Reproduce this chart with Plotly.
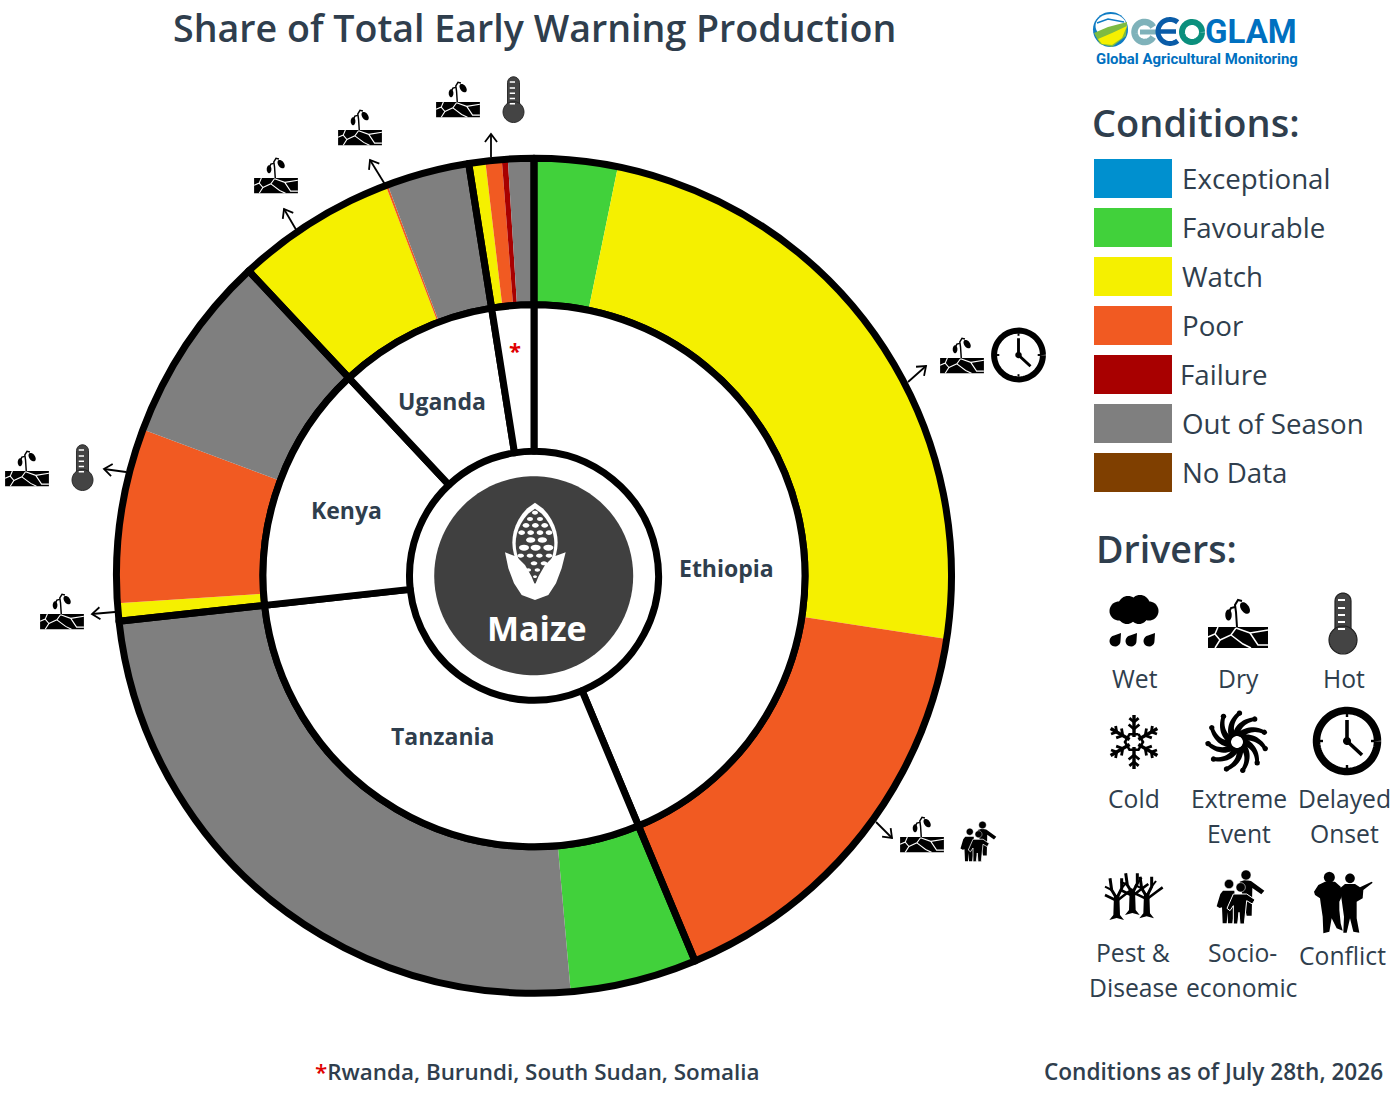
import numpy as np
import plotly.graph_objects as go

# share of total production per country (percent)
countries = ["Ethiopia", "Tanzania", "Kenya", "Uganda", "Other"]
favourable = [3.22, 4.9, 0, 0, 0]
watch = [24.2, 0, 0.69, 6.19, 0.64]
poor = [16.28, 0, 6.75, 0.08, 0.63]
failure = [0, 0, 0, 0, 0.23]
out_of_season = [0, 24.66, 7.33, 3.2, 1.0]

condition_names = ["Exceptional", "Favourable", "Watch", "Poor", "Failure", "Out of Season", "No Data"]
condition_colors = ["#0090CF", "#41D13B", "#F5F000", "#F15A22", "#A80000", "#7F7F7F", "#7F3F00"]

driver_labels = ["Wet", "Dry", "Hot", "Cold", "Extreme", "Event", "Delayed", "Onset",
                 "Pest &", "Disease", "Socio-", "economic", "Conflict"]
country_labels = ["Ethiopia", "Tanzania", "Kenya", "Uganda", "*"]

W, H = 1400, 1100
CX, CY = 534, 575.8
R_OUT, R_MID, R_HOLE = 417.5, 271, 124.5
TEXT = "#2F3E4D"
FONT = "Open Sans"

shapes = []
annotations = []


def pt(x, y):
    return f"{x / W:.5f},{1 - y / H:.5f}"


def to_path(points, closed=True):
    return "M" + "L".join(pt(x, y) for x, y in points) + ("Z" if closed else "")


def fill(points, color, line=None, lw=0):
    shapes.append(dict(type="path", xref="paper", yref="paper", path=to_path(points), fillcolor=color,
                       line=dict(color=line or color, width=lw), layer="above"))


def stroke(points, color="black", lw=2):
    shapes.append(dict(type="path", xref="paper", yref="paper", path=to_path(points, closed=False),
                       line=dict(color=color, width=lw), layer="above"))


def ellipse(cx, cy, rx, ry=None, rot=0, n=40):
    ry = rx if ry is None else ry
    t = np.linspace(0, 2 * np.pi, n, endpoint=False)
    a = np.radians(rot)
    x = rx * np.cos(t)
    y = ry * np.sin(t)
    return list(zip(cx + x * np.cos(a) - y * np.sin(a), cy + x * np.sin(a) + y * np.cos(a)))


def arc(cx, cy, r, a0, a1, n=50):
    t = np.radians(np.linspace(a0, a1, n))
    return list(zip(cx + r * np.cos(t), cy + r * np.sin(t)))


def move(points, ox, oy, s=1.0):
    return [(ox + x * s, oy + y * s) for x, y in points]


def text(s, x, y, size, color=TEXT, anchor="left", weight=400, family=FONT):
    annotations.append(dict(text=s, x=x / W, y=1 - y / H, xref="paper", yref="paper", showarrow=False,
                            xanchor=anchor, yanchor="middle", borderpad=0,
                            font=dict(family=family, size=size, color=color, weight=weight)))


def arrow(x0, y0, x1, y1, head=10):
    stroke([(x0, y0), (x1, y1)], lw=1.8)
    a = np.arctan2(y0 - y1, x0 - x1)
    left = (x1 + head * np.cos(a + 0.65), y1 + head * np.sin(a + 0.65))
    right = (x1 + head * np.cos(a - 0.65), y1 + head * np.sin(a - 0.65))
    stroke([left, (x1, y1), right], lw=1.8)


def dry_icon(ox, oy, s=1.0):
    # origin is the middle of the top edge of the cracked ground
    fill(move([(-30, 0), (30, 0), (30, 21), (-30, 21)], ox, oy, s), "black")
    cracks = [[(-20, 0), (-23, 7), (-30, 10)], [(-23, 7), (-18, 13), (-23, 21)],
              [(-18, 13), (-7, 8), (-2, 1)], [(-7, 8), (5, 17), (13, 21)],
              [(-2, 1), (12, 6), (30, 3)], [(12, 6), (20, 18), (30, 18)]]
    for c in cracks:
        stroke(move(c, ox, oy, s), "white", 1.5 * s)
    stroke(move([(-1, 0), (-2, -15), (-3, -22), (0, -27), (4, -26)], ox, oy, s), "black", 2 * s)
    stroke(move([(-3, -20), (-7, -19), (-9, -15)], ox, oy, s), "black", 2 * s)
    fill(move(ellipse(7, -19, 6.5, 4, 55), ox, oy, s), "black")
    fill(move(ellipse(-9.5, -12, 3.2, 5.5), ox, oy, s), "black")


def thermometer(ox, oy, s=1.0):
    # origin is the centre of the bulb
    tube = arc(0, -39, 8, 180, 360, 12) + [(8, 0), (-8, 0)]
    fill(move(tube, ox, oy, s), "#444444", "#222222", 1.2 * s)
    fill(move(ellipse(0, 0, 14), ox, oy, s), "#444444", "#222222", 1.2 * s)
    for dy in [-40, -32, -25, -18, -11]:
        stroke(move([(-5, dy), (2, dy)], ox, oy, s), "white", 2 * s)


def clock(ox, oy, s=1.0):
    # legend size has a radius of 34
    stroke(move(arc(0, 0, 30.5, 0, 360, 70), ox, oy, s), "black", 7.5 * s)
    stroke(move([(0, -21), (0, 0), (15, 14)], ox, oy, s), "black", 3.6 * s)
    fill(move(ellipse(0, 0, 4), ox, oy, s), "black")
    for a in [0, 90, 180, 270]:
        c, n = np.cos(np.radians(a)), np.sin(np.radians(a))
        stroke(move([(27 * c, 27 * n), (24 * c, 24 * n)], ox, oy, s), "black", 2.4 * s)


def people(ox, oy, s=1.0):
    # figures are drawn at 3x so their outlines stay easy to edit
    back = [(484, 908), (500, 903), (518, 906), (558, 935), (549, 946), (522, 927), (520, 1010), (505, 1010)]
    left = [(434, 935), (468, 935), (470, 975), (462, 1033), (449, 1033), (448, 1000), (445, 1033), (433, 1033),
            (431, 985), (424, 987), (415, 982), (426, 945)]
    mid = [(465, 945), (505, 945), (530, 962), (522, 975), (505, 965), (498, 1035), (485, 1035), (482, 1000),
           (478, 1035), (465, 1035), (465, 980), (455, 995), (446, 988)]
    for poly in [back, left]:
        fill([(ox + (x - 485) / 3 * s, oy + (y - 960) / 3 * s) for x, y in poly], "black")
    fill([(ox + (x - 485) / 3 * s, oy + (y - 960) / 3 * s) for x, y in mid], "black", "white", 1 * s)
    for x, y, r in [(503, 888, 15), (452, 915, 14), (487, 925, 14)]:
        fill(ellipse(ox + (x - 485) / 3 * s, oy + (y - 960) / 3 * s, r / 3 * s), "black", "white", 0.6 * s)


def wet_icon(ox, oy):
    for x, y, r in [(-15, 0, 9.5), (-6, -5, 10), (6, -6, 10), (15, 0, 9.5), (5, 4, 9), (-7, 4, 9)]:
        fill(ellipse(ox + x, oy + y, r), "black")
    for x in [-19, -3, 15]:
        drop = [(6, -8)] + arc(0, 0, 5.5, 0, 260, 16)
        fill(move(drop, ox + x, oy + 30), "black")


def snowflake(ox, oy):
    for k in range(6):
        a = np.radians(60 * k - 90)
        u = (np.cos(a), np.sin(a))
        stroke([(ox + 5 * u[0], oy + 5 * u[1]), (ox + 27 * u[0], oy + 27 * u[1])], "black", 3.4)
        for r, b in [(13, 7), (20, 6)]:
            for sg in [-1, 1]:
                d = a + sg * np.radians(50)
                p = (ox + r * u[0], oy + r * u[1])
                stroke([p, (p[0] + b * np.cos(d), p[1] + b * np.sin(d))], "black", 2.8)
    hexa = [(ox + 9 * np.cos(np.radians(60 * k - 60)), oy + 9 * np.sin(np.radians(60 * k - 60))) for k in range(7)]
    stroke(hexa, "black", 2.6)


def swirl(ox, oy):
    for k in range(11):
        base = 2 * np.pi * k / 11
        t = np.linspace(0, 1, 14)
        r = 7 + 22 * t
        a = base + 0.8 * t
        w = (3.6 - 0.9 * t) / r
        edge1 = list(zip(ox + r * np.cos(a + w), oy + r * np.sin(a + w)))
        edge2 = list(zip(ox + r * np.cos(a - w), oy + r * np.sin(a - w)))
        fill(edge1 + edge2[::-1], "black")
        fill(ellipse(ox + r[-1] * np.cos(a[-1]), oy + r[-1] * np.sin(a[-1]), 2.7, n=12), "black")
    stroke(arc(ox, oy, 8, 0, 360, 30), "black", 4)


def tree(x0, ybase):
    # crop coordinates, 3 units to the pixel, origin at the crop corner
    def p(points):
        return [(1095 + (x0 + x) / 3, 865 + (ybase + y) / 3) for x, y in points]

    fill(p([(-8, -75), (8, -75), (10, -15), (22, 0), (0, -6), (-22, 0), (-10, -15)]), "black")
    for branch, lw in [([(0, -65), (-15, -90), (-20, -125)], 3), ([(-15, -90), (-35, -100)], 2),
                       ([(0, -65), (15, -95), (15, -125)], 3), ([(15, -95), (28, -112)], 2),
                       ([(-4, -60), (-35, -75)], 2.6), ([(4, -60), (30, -80), (48, -93)], 2.6)]:
        stroke(p(branch), "black", lw)


def soldiers():
    def p(points):
        return [(1300 + x / 3, 860 + y / 3) for x, y in points]

    body1 = [(42, 95), (55, 75), (75, 65), (105, 65), (122, 80), (125, 110), (118, 125), (118, 150), (122, 190),
             (128, 212), (110, 205), (95, 175), (88, 215), (70, 220), (68, 170), (62, 130), (60, 115), (45, 105)]
    body2 = [(120, 85), (135, 72), (165, 72), (180, 82), (215, 65), (218, 68), (190, 90), (188, 115), (170, 125),
             (170, 175), (178, 218), (160, 215), (150, 175), (140, 218), (130, 218), (132, 170), (125, 120)]
    fill(p(body1), "black")
    fill(p(body2), "black")
    fill(ellipse(1300 + 88 / 3, 860 + 52 / 3, 14 / 3 + 0.8), "black")
    fill(ellipse(1300 + 150 / 3, 860 + 55 / 3, 12 / 3 + 0.8), "black")


def maize():
    def mz(points):
        return [(400 + x / 3, 440 + y / 3) for x, y in points]

    def lens(half, top, bottom):
        t = np.linspace(0, 1, 16)
        ys = top + (bottom - top) * t
        xs = half * np.sin(np.pi * t ** 0.9) ** 0.8
        return [(405 + x, y) for x, y in zip(xs, ys)] + [(405 - x, y) for x, y in zip(xs[::-1], ys[::-1])]

    fill(mz(lens(68, 188, 445)), "white")
    fill(mz(lens(58, 206, 432)), "#404040")
    rows = [(218, [405], 9, 6), (237, [390, 420], 9, 6), (256, [378, 406, 434], 10, 7), (278, [365, 392, 420, 447], 10, 7),
            (300, [392, 427], 14, 8), (323, [372, 407, 445], 15, 9), (347, [362, 390, 418, 447], 10, 6),
            (370, [402, 432], 10, 6), (390, [385, 412], 8, 5), (410, [405], 6, 4)]
    for y, xs, rx, ry in rows:
        for x in xs:
            fill(mz(ellipse(x, y, rx, ry, n=16)), "white")
    husk = [(315, 337), (350, 350), (375, 375), (395, 410), (405, 435), (415, 410), (435, 375), (460, 350), (497, 337),
            (485, 385), (468, 430), (445, 465), (405, 480), (365, 465), (342, 430), (325, 385)]
    fill(mz(husk), "white")


def logo():
    fill(ellipse(1110.5, 29.5, 17.5), "#0F7CC4")
    fill(ellipse(1111, 26, 15.5, 12), "white")
    fill([(1094, 33), (1108, 27), (1127, 22), (1126, 36), (1112, 47), (1100, 44)], "#7DBB42")
    fill([(1098, 39), (1112, 33), (1127, 26), (1122, 38), (1112, 45), (1102, 44)], "#F5F000")
    stroke([(1097, 23), (1108, 19), (1124, 22)], "#0F7CC4", 1.6)
    stroke(arc(1144.5, 32, 10, 30, 330), "#7FB2BA", 6.5)
    stroke([(1140, 32), (1158, 32)], "#7FB2BA", 5)
    stroke(arc(1170, 31.5, 12, 50, 310), "#0A5CA8", 5)
    stroke([(1158, 31.5), (1176, 31.5)], "#0A5CA8", 4.5)
    stroke(arc(1192, 32, 10, 0, 360), "#0B8F7D", 6)
    text("GLAM", 1204, 31, 33, "#0070C0", weight=700, family="Roboto")
    text("Global Agricultural Monitoring", 1095, 59, 14.9, "#0070C0", weight=700, family="Roboto")


def domain(r):
    return dict(x=[(CX - r) / W, (CX + r) / W], y=[1 - (CY + r) / H, 1 - (CY - r) / H])


series = [favourable, watch, poor, failure, out_of_season]
series_colors = condition_colors[1:6]
ring_labels, ring_values, ring_colors = [], [], []
for i, country in enumerate(countries):
    for name, values, color in zip(condition_names[1:6], series, series_colors):
        if values[i] > 0:
            ring_labels.append(f"{country} - {name}")
            ring_values.append(values[i])
            ring_colors.append(color)
totals = [sum(values[i] for values in series) for i in range(len(countries))]

fig = go.Figure()
fig.add_trace(go.Pie(labels=ring_labels, values=ring_values, sort=False, direction="clockwise", rotation=0,
                     domain=domain(R_OUT), hole=R_MID / R_OUT, textinfo="none", showlegend=False,
                     marker=dict(colors=ring_colors, line=dict(width=0))))
fig.add_trace(go.Pie(labels=countries, values=totals, sort=False, direction="clockwise", rotation=0,
                     domain=domain(R_OUT), hole=R_MID / R_OUT, textinfo="none", showlegend=False, hoverinfo="skip",
                     marker=dict(colors=["rgba(0,0,0,0)"] * 5, line=dict(color="black", width=7))))
fig.add_trace(go.Pie(labels=countries, values=totals, sort=False, direction="clockwise", rotation=0,
                     domain=domain(R_MID), hole=R_HOLE / R_MID, textinfo="none", showlegend=False,
                     marker=dict(colors=["white"] * 5, line=dict(color="black", width=7))))

# centre badge
fill(ellipse(CX - 0.3, CY, 99.5, n=90), "#404040")
maize()
text("Maize", 536.5, 627.5, 34, "white", "center", 700)

# country labels
for label, x, y in zip(country_labels, [727, 442, 346, 442, 515], [568, 736, 510, 401, 350]):
    if label == "*":
        text(label, x, y, 22, "#E00000", "center", 700)
    else:
        text(label, x, y, 23, TEXT, "center", 700)

# arrows and driver icons around the ring
arrow(908, 382, 926, 366)
dry_icon(962, 358, 0.73)
clock(1018.5, 355, 0.8)
arrow(876, 822, 892, 838)
dry_icon(922, 837, 0.73)
people(978, 843, 0.75)
arrow(491, 157, 491, 134)
dry_icon(458, 102, 0.73)
thermometer(513.5, 112, 0.75)
arrow(386, 186, 370, 160)
dry_icon(360, 130, 0.73)
arrow(298, 233, 284, 209)
dry_icon(276, 178, 0.73)
arrow(126, 472, 104, 469)
dry_icon(27, 471, 0.73)
thermometer(82.5, 480, 0.75)
arrow(115, 612, 92, 614)
dry_icon(62, 614, 0.73)

# header and footers
text("Share of Total Early Warning Production", 534, 27.5, 37.6, TEXT, "center", 600)
logo()
text("Conditions:", 1091, 122, 38, TEXT, weight=600)
text("Drivers:", 1095, 549, 37.6, TEXT, weight=600)
text("<span style='color:#E00000'>*</span>Rwanda, Burundi, South Sudan, Somalia", 314, 1071, 22.4, TEXT, weight=600)
text("Conditions as of July 28th, 2026", 1384, 1071, 22.6, TEXT, "right", 600)

# conditions legend
for i, (name, color) in enumerate(zip(condition_names, condition_colors)):
    top = 159 + 49 * i
    fill([(1094, top), (1172, top), (1172, top + 39), (1094, top + 39)], color)
    text(name, 1181 if name != "Failure" else 1179, top + 19, 27.7, TEXT)

# drivers legend
wet_icon(1134, 611)
dry_icon(1238, 627)
thermometer(1343, 640)
snowflake(1134, 742)
swirl(1237, 742)
clock(1347, 741)
for x0, base in [(65, 165), (112, 150), (155, 160)]:
    tree(x0, base)
people(1240, 899)
soldiers()
label_x = [1135, 1238, 1344, 1134, 1239, 1239, 1344, 1344, 1133, 1133, 1242, 1242, 1342]
label_y = [678, 678, 678, 798, 798, 833, 798, 833, 952, 987, 952, 987, 955]
for label, x, y in zip(driver_labels, label_x, label_y):
    text(label, x, y, 24.7, TEXT, "center")

fig.update_layout(width=W, height=H, margin=dict(l=0, r=0, t=0, b=0), paper_bgcolor="white",
                  showlegend=False, shapes=shapes, annotations=annotations)
fig.write_html("out.html", config=dict(displayModeBar=False), post_script="document.body.style.margin='0';")
